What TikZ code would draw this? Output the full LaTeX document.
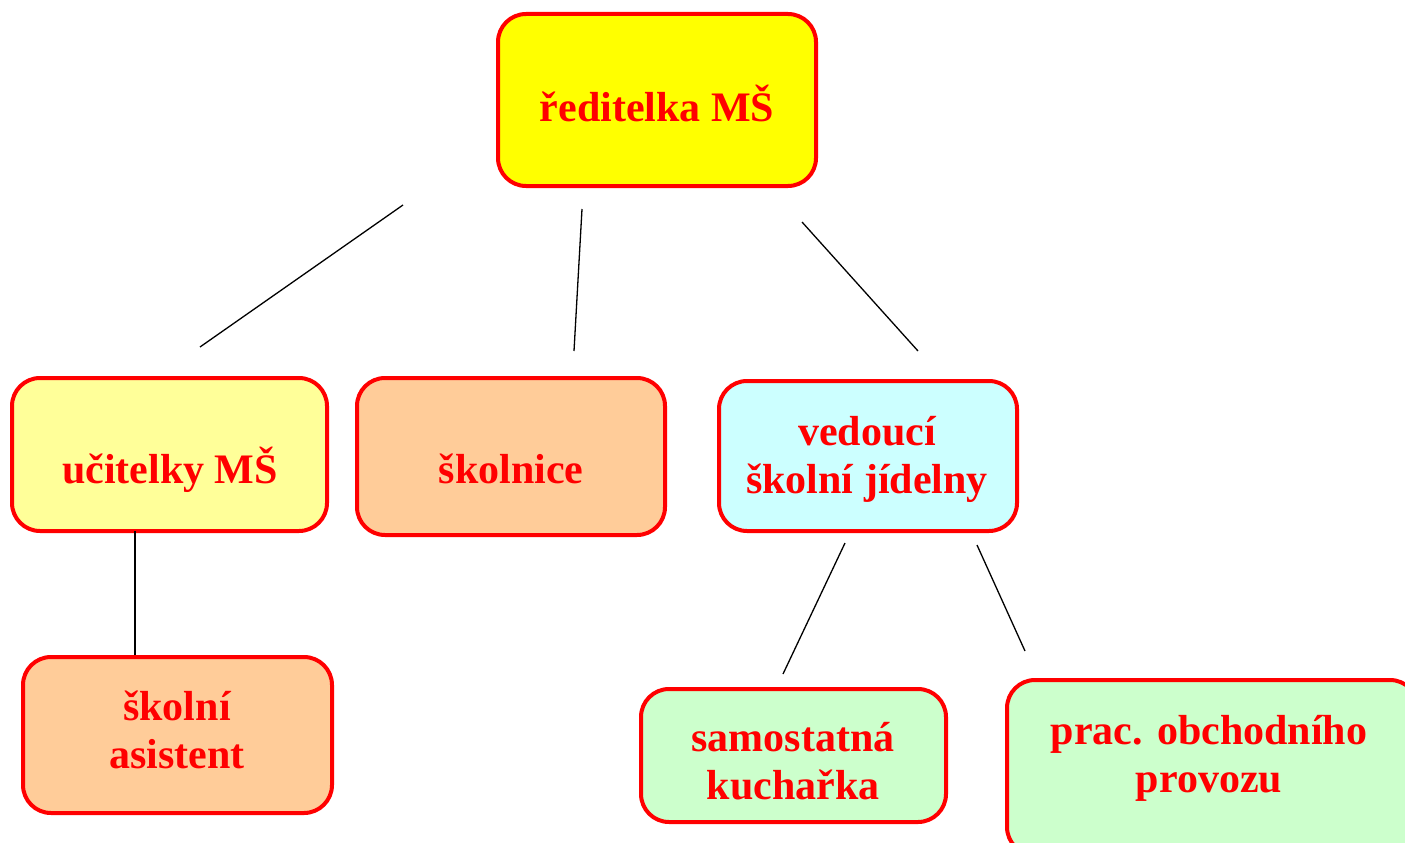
\documentclass[tikz,border=0pt]{standalone}
\usepackage{fontspec}
\setmainfont{Liberation Serif}
\definecolor{bred}{HTML}{FF0000}
\definecolor{cyellow}{HTML}{FFFF00}
\definecolor{lyellow}{HTML}{FFFF99}
\definecolor{peach}{HTML}{FFCC99}
\definecolor{lcyan}{HTML}{CCFFFF}
\definecolor{lgreen}{HTML}{CCFFCC}
\tikzset{
  box/.style={draw=bred, line width=4pt, rounded corners=28pt, inner sep=0pt},
  lbl/.style={text=bred, font=\fontsize{42}{48}\selectfont\bfseries, align=center, anchor=base, inner sep=0pt},
  conn/.style={line width=1.3pt, black}
}
\begin{document}
\begin{tikzpicture}[x=1pt,y=-1pt]
\useasboundingbox (0,0) rectangle (1405,843);
\begin{scope}
\clip (0,0) rectangle (1405,843);
% boxes
\node[box, fill=cyellow, minimum width=318pt, minimum height=172pt] (dir) at (657,100) {};
\node[box, fill=lyellow, minimum width=315pt, minimum height=153pt] (ucit) at (169.5,454.5) {};
\node[box, fill=peach, minimum width=308pt, minimum height=157pt] (skoln) at (511,456.5) {};
\node[box, fill=lcyan, minimum width=298pt, minimum height=150pt] (ved) at (868,456) {};
\node[box, fill=peach, minimum width=309pt, minimum height=156pt] (asis) at (177.5,735) {};
\node[box, fill=lgreen, minimum width=305pt, minimum height=133pt] (kuch) at (793.5,755.5) {};
\node[box, fill=lgreen, minimum width=411pt, minimum height=175pt] (prac) at (1212.5,767.5) {};
% labels
\node[lbl] (tdir) at (657,121) {ředitelka MŠ};
\node[lbl] (tucit) at (170,483) {učitelky MŠ};
\node[lbl] (tskoln) at (511,483) {školnice};
\node[lbl] (tved) at (867,493) {vedoucí\\školní jídelny};
\node[lbl] (tasis) at (177,768) {školní\\asistent};
\node[lbl] (tkuch) at (793,799) {samostatná\\kuchařka};
\node[lbl] (tprac) at (1209,792) {prac. obchodního\\provozu};
\end{scope}
% connectors (free-floating)
\coordinate (a1) at (403,205); \coordinate (a2) at (200,347);
\coordinate (b1) at (582,209); \coordinate (b2) at (574,351);
\coordinate (c1) at (802,222); \coordinate (c2) at (918,351);
\coordinate (d1) at (135,531); \coordinate (d2) at (135,655);
\coordinate (e1) at (845,543); \coordinate (e2) at (783,674);
\coordinate (f1) at (977,545); \coordinate (f2) at (1025,651);
\draw[conn] (a1) -- (a2);
\draw[conn] (b1) -- (b2);
\draw[conn] (c1) -- (c2);
\draw[conn] (d1) -- (d2);
\draw[conn] (e1) -- (e2);
\draw[conn] (f1) -- (f2);
\end{tikzpicture}
\end{document}
